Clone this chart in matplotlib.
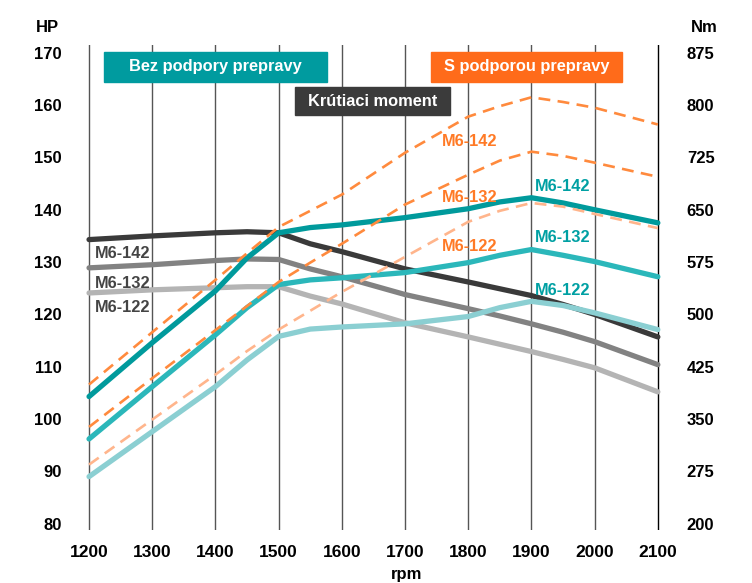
import matplotlib
matplotlib.use('Agg')
import matplotlib.pyplot as plt

plt.rcParams['font.family'] = ['Liberation Sans', 'DejaVu Sans']
plt.rcParams['font.weight'] = 'bold'

# ── data (HP on left axis; torque read on the same grid, Nm = 200 + (HP-80)*7.5) ──
rpm = [1200, 1300, 1400, 1450, 1500, 1550, 1600, 1700, 1800, 1850, 1900, 1950, 2000, 2100]
rpm_ticks = [1200, 1300, 1400, 1500, 1600, 1700, 1800, 1900, 2000, 2100]

# power, without transport support (solid teal)
bez_142 = [104.3, 114.6, 124.5, 130.8, 135.6, 136.6, 137.1, 138.5, 140.2, 141.5, 142.3, 141.3, 140.0, 137.5]
bez_132 = [96.2, 106.2, 116.1, 121.3, 125.7, 126.6, 127.0, 128.0, 129.9, 131.3, 132.4, 131.3, 130.1, 127.2]
bez_122 = [89.0, 97.6, 106.2, 111.3, 115.8, 117.2, 117.6, 118.2, 119.6, 121.3, 122.5, 121.7, 120.3, 117.1]

# power, with transport support (dashed orange)
s_142 = [106.6, 116.6, 126.6, 131.7, 136.7, 139.8, 142.9, 150.9, 157.8, 159.8, 161.5, 160.6, 159.5, 156.3]
s_132 = [98.5, 107.8, 117.0, 121.6, 126.2, 129.9, 133.5, 141.0, 146.7, 149.4, 151.1, 150.3, 149.0, 146.3]
s_122 = [91.3, 99.9, 108.5, 113.0, 117.1, 120.7, 124.3, 131.0, 137.7, 139.8, 141.3, 140.6, 139.2, 136.5]

# torque (gray), expressed on the HP grid
tq_142 = [134.3, 135.0, 135.6, 135.8, 135.6, 133.5, 132.0, 128.7, 126.2, 124.9, 123.6, 121.9, 120.0, 115.7]
tq_132 = [128.9, 129.5, 130.3, 130.6, 130.5, 128.7, 127.2, 123.8, 121.1, 119.7, 118.2, 116.6, 114.8, 110.4]
tq_122 = [124.1, 124.7, 125.1, 125.3, 125.3, 123.5, 122.0, 118.4, 115.7, 114.3, 112.9, 111.4, 109.8, 105.2]

hp_ticks = [80, 90, 100, 110, 120, 130, 140, 150, 160, 170]
nm_ticks = [200, 275, 350, 425, 500, 575, 650, 725, 800, 875]

TEAL = ['#009a9c', '#2bb7ba', '#8bcfd2']
GRAY = ['#3a3a3a', '#828282', '#b4b4b4']
ORANGE = ['#ff8a3d', '#ff8a3d', '#ffb58c']

fig = plt.figure(figsize=(7.52, 5.83), dpi=100)
ax = fig.add_axes([0.1016, 0.0909, 0.790, 0.832])
ax.set_xlim(1180, 2120)
ax.set_ylim(78.8, 171.5)

for r in rpm_ticks:
    ax.axvline(r, color='#000000' if r == 2100 else '#555555', lw=1.0, zorder=1)

for y, c in zip([tq_142, tq_132, tq_122], GRAY):
    ax.plot(rpm, y, color=c, lw=3.8, solid_capstyle='round', solid_joinstyle='round', zorder=3)
for y, c in zip([bez_142, bez_132, bez_122], TEAL):
    ax.plot(rpm, y, color=c, lw=3.8, solid_capstyle='round', solid_joinstyle='round', zorder=4)
for y, c in zip([s_142, s_132, s_122], ORANGE):
    ax.plot(rpm, y, color=c, lw=1.9, dashes=(4.5, 2.8), dash_joinstyle='round', zorder=5)

for s in ax.spines.values():
    s.set_visible(False)

ax.set_xticks(rpm_ticks)
ax.set_xticklabels([str(r) for r in rpm_ticks])
ax.set_yticks(hp_ticks)
ax.set_yticklabels([str(v) for v in hp_ticks])
ax.tick_params(axis='both', length=0)
ax.tick_params(axis='y', pad=10.4, labelsize=12)
ax.tick_params(axis='x', pad=11, labelsize=12.5)

ax2 = ax.twinx()
ax2.set_ylim(200 + (78.8 - 80) * 7.5, 200 + (171.5 - 80) * 7.5)
ax2.set_yticks(nm_ticks)
ax2.set_yticklabels([str(v) for v in nm_ticks])
ax2.tick_params(axis='y', length=0, labelsize=12, pad=11.8)
for s in ax2.spines.values():
    s.set_visible(False)

fig.text(36 / 752, 1 - 28 / 583, 'HP', fontsize=12, fontweight='bold', va='center', ha='left')
fig.text(718 / 752, 1 - 28 / 583, 'Nm', fontsize=12, fontweight='bold', va='center', ha='right')
fig.text(407 / 752, 1 - 574 / 583, 'rpm', fontsize=12, fontweight='bold', va='center', ha='center')

# header boxes
def box(x0, y0, x1, y1, color, label):
    fig.patches.append(plt.Rectangle((x0 / 752, 1 - y1 / 583), (x1 - x0) / 752, (y1 - y0) / 583,
                                     transform=fig.transFigure, color=color, zorder=6))
    fig.text((x0 + x1) / 2 / 752, 1 - (y0 + y1) / 2 / 583, label, color='white',
             fontsize=11.8, fontweight='bold', ha='center', va='center', zorder=7)

box(104, 52, 327, 82, '#009b9f', 'Bez podpory prepravy')
box(431, 52, 622, 82, '#ff6b1a', 'S podporou prepravy')
box(295, 87, 450, 115, '#3b3b3b', 'Krútiaci moment')

# series labels
for txt, y in zip(['M6-142', 'M6-132', 'M6-122'], [131.6, 126.0, 121.3]):
    ax.text(1210, y, txt, color='#444444', fontsize=11.8, fontweight='bold', va='center', ha='left', zorder=6)
for txt, y in zip(['M6-142', 'M6-132', 'M6-122'], [153.0, 142.4, 132.9]):
    ax.text(1758, y, txt, color='#ff7a26', fontsize=11.8, fontweight='bold', va='center', ha='left', zorder=6)
for txt, y in zip(['M6-142', 'M6-132', 'M6-122'], [144.4, 134.7, 124.5]):
    ax.text(1905, y, txt, color='#00a0a3', fontsize=11.8, fontweight='bold', va='center', ha='left', zorder=6)

fig.savefig('out.png', dpi=100)
